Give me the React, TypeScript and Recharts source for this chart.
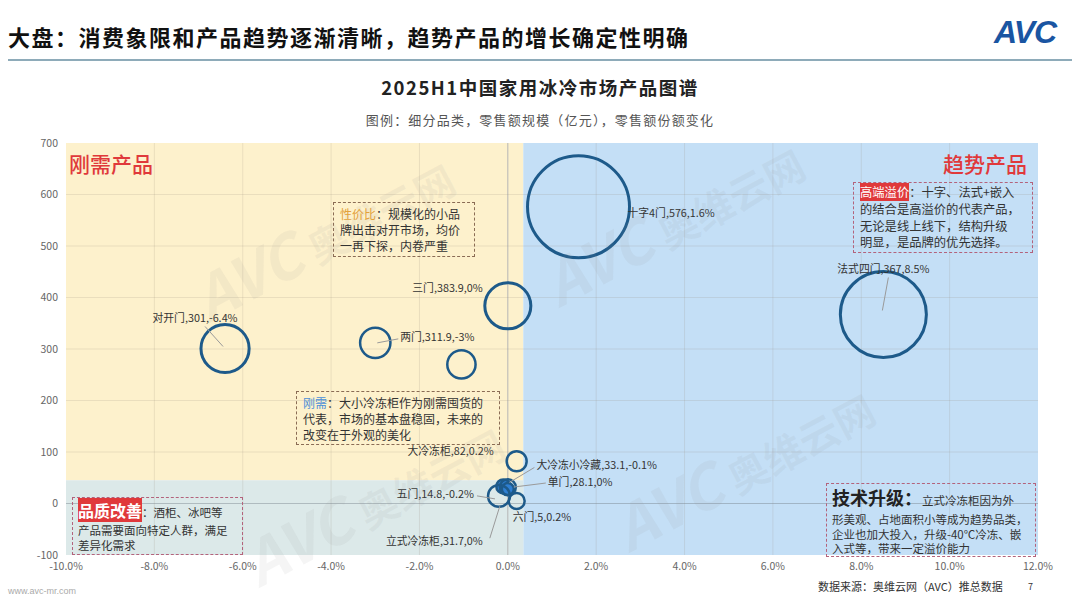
import { ScatterChart, Scatter, XAxis, YAxis, ZAxis, ReferenceArea, ReferenceLine } from 'recharts';

const names = ['对开门', '两门', '', '三门', '十字4门', '法式四门', '大冷冻柜', '大冷冻小冷藏', '单门', '五门', '六门', '立式冷冻柜'];
const sales = [301, 311.9, 270, 383.9, 576, 367, 82, 33.1, 28.1, 14.8, 5, 31.7];
const shareChange = [-6.4, -3, -1.05, 0, 1.6, 8.5, 0.2, -0.1, 0, -0.2, 0.2, 0];
const bubbleSize = [58, 23, 20, 53, 260, 185, 10, 5, 3.6, 12, 6.4, 6.4];
const filled = ['大冷冻小冷藏', '单门'];

const xTicks = [-10, -8, -6, -4, -2, 0, 2, 4, 6, 8, 10, 12];
const yTicks = [-100, 0, 100, 200, 300, 400, 500, 600, 700];

const data = names.map((name, i) => ({ name, x: shareChange[i], y: sales[i], z: bubbleSize[i] }));

// where each bubble label sits relative to its centre
const labelPos: Record<string, { dx: number; dy: number; anchor: string; line?: number[] }> = {
  对开门: { dx: -30, dy: -29, anchor: 'middle', line: [-20, -22, -2, -2] },
  两门: { dx: 25, dy: -5, anchor: 'start', line: [23, -4, 2, 0] },
  三门: { dx: -25, dy: -17, anchor: 'end' },
  十字4门: { dx: 49, dy: 7, anchor: 'start' },
  法式四门: { dx: 0, dy: -44, anchor: 'middle', line: [5, -37, -1, -4] },
  大冷冻柜: { dx: -23, dy: -9, anchor: 'end' },
  大冷冻小冷藏: { dx: 33, dy: -20, anchor: 'start', line: [31, -19, 6, -4] },
  单门: { dx: 40, dy: -6, anchor: 'start', line: [38, -6, 6, -2] },
  五门: { dx: -25, dy: -1, anchor: 'end', line: [-22, 0, -4, 3] },
  六门: { dx: -4, dy: 17, anchor: 'start' },
  立式冷冻柜: { dx: -25, dy: 55, anchor: 'end', line: [-18, 51, -8, 19] },
};

const font = '"Noto Sans CJK SC", "Noto Sans", sans-serif';

const Bubble = (props: any) => {
  const { cx, cy, payload } = props;
  const r = props.width ? props.width / 2 : Math.sqrt((props.size || 0) / Math.PI);
  const isFilled = filled.includes(payload.name);
  return (
    <circle cx={cx} cy={cy} r={r} fill={isFilled ? '#2f7fd2' : 'none'} stroke="#1d5a8a" strokeWidth={r > 20 ? 3 : 2.5} />
  );
};

const BubbleLabel = (props: any) => {
  const { cx, cy, payload } = props;
  const p = labelPos[payload.name];
  if (!p) return <g />;
  return (
    <g>
      {p.line && (
        <line x1={cx + p.line[0]} y1={cy + p.line[1]} x2={cx + p.line[2]} y2={cy + p.line[3]} stroke="#9a9a9a" strokeWidth={1} />
      )}
      <text x={cx + p.dx} y={cy + p.dy} textAnchor={p.anchor as any} dominantBaseline="middle" fontSize={10.8} fill="#333" fontFamily={font}>
        {`${payload.name},${payload.y},${payload.x}%`}
      </text>
    </g>
  );
};

const boxBase: React.CSSProperties = {
  position: 'absolute',
  fontFamily: font,
  fontSize: 12,
  lineHeight: '16px',
  color: '#333',
  padding: '3px 6px',
  boxSizing: 'border-box',
  whiteSpace: 'nowrap',
};

const Watermark = ({ left, top }: { left: number; top: number }) => (
  <div
    style={{
      position: 'absolute',
      left,
      top,
      transform: 'rotate(-28deg)',
      color: 'rgba(140,140,140,0.09)',
      fontFamily: font,
      fontWeight: 700,
      whiteSpace: 'nowrap',
      pointerEvents: 'none',
    }}
  >
    <span style={{ fontSize: 60, fontStyle: 'italic' }}>AVC</span>
    <span style={{ fontSize: 40, marginLeft: 10 }}>奥维云网</span>
  </div>
);

export default function App() {
  return (
    <div style={{ position: 'absolute', left: 0, top: 0, width: 1080, height: 607, background: '#fff', overflow: 'hidden', fontFamily: font }}>
      {/* header */}
      <div style={{ position: 'absolute', left: 8, top: 20, fontSize: 22, fontWeight: 700, color: '#111', letterSpacing: 1.5 }}>
        大盘：消费象限和产品趋势逐渐清晰，趋势产品的增长确定性明确
      </div>
      <div style={{ position: 'absolute', left: 994, top: 14, fontSize: 32, fontWeight: 900, fontStyle: 'italic', color: '#1a55a2', fontFamily: '"Liberation Sans", Arial, sans-serif', letterSpacing: -1 }}>
        AVC
      </div>
      <div style={{ position: 'absolute', left: 8, top: 59, width: 1064, height: 2, background: '#8eabb9' }} />
      <div style={{ position: 'absolute', left: 0, width: 1080, top: 74, textAlign: 'center', fontSize: 18.5, fontWeight: 700, color: '#222', letterSpacing: 1.5 }}>
        2025H1中国家用冰冷市场产品图谱
      </div>
      <div style={{ position: 'absolute', left: 0, width: 1080, top: 110, textAlign: 'center', fontSize: 13, color: '#555', letterSpacing: 1.2 }}>
        图例：细分品类，零售额规模（亿元），零售额份额变化
      </div>

      <div style={{ position: 'absolute', left: 0, top: 0 }}>
        <ScatterChart width={1080} height={607} margin={{ top: 143, right: 42, bottom: 22, left: 16 }}>
          <XAxis
            type="number"
            dataKey="x"
            domain={[-10, 12]}
            ticks={xTicks}
            tickFormatter={(v: number) => `${v.toFixed(1)}%`}
            axisLine={false}
            tickLine={false}
            height={30}
            tick={{ fill: '#666', fontSize: 10.5, fontFamily: font }}
          />
          <YAxis
            type="number"
            dataKey="y"
            domain={[-100, 700]}
            ticks={yTicks}
            axisLine={false}
            tickLine={false}
            width={50}
            tick={{ fill: '#666', fontSize: 10.5, fontFamily: font }}
          />
          <ZAxis type="number" dataKey="z" domain={[0, 260]} range={[0, Math.PI * 2600]} />
          <ReferenceArea x1={-10} x2={0.35} y1={45} y2={700} fill="#fdf1cc" fillOpacity={1} stroke="none" />
          <ReferenceArea x1={0.35} x2={12} y1={-100} y2={700} fill="#c4dff6" fillOpacity={1} stroke="none" />
          <ReferenceArea x1={-10} x2={0.35} y1={-100} y2={45} fill="#dce9e9" fillOpacity={1} stroke="none" />
          {xTicks.slice(1, -1).map((t) => (
            <ReferenceLine key={`vx${t}`} x={t} stroke={t === 0 ? '#b5b5b5' : 'rgba(150,140,120,0.18)'} strokeWidth={1} />
          ))}
          {yTicks.slice(1, -1).map((t) => (
            <ReferenceLine key={`hy${t}`} y={t} stroke={t === 0 ? 'rgba(120,130,140,0.45)' : 'rgba(150,140,120,0.18)'} strokeWidth={1} />
          ))}
          <Scatter data={data} shape={<Bubble />} isAnimationActive={false} />
          <Scatter data={data} shape={<BubbleLabel />} isAnimationActive={false} />
        </ScatterChart>
      </div>

      <Watermark left={180} top={190} />
      <Watermark left={530} top={175} />
      <Watermark left={230} top={455} />
      <Watermark left={600} top={420} />

      {/* quadrant titles */}
      <div style={{ position: 'absolute', left: 69, top: 148, fontSize: 21, color: '#e0393b', fontWeight: 500 }}>刚需产品</div>
      <div style={{ position: 'absolute', left: 943, top: 148, fontSize: 21, color: '#e0393b', fontWeight: 500 }}>趋势产品</div>

      {/* annotation boxes */}
      <div style={{ ...boxBase, left: 333, top: 202, width: 142, height: 55, border: '1.5px dashed #8a6c55' }}>
        <span style={{ color: '#e3a13a' }}>性价比</span>：规模化的小品<br />牌出击对开市场，均价<br />一再下探，内卷严重
      </div>
      <div style={{ ...boxBase, left: 296, top: 391, width: 204, height: 54, border: '1.5px dashed #8a6c55' }}>
        <span style={{ color: '#4a8fd8' }}>刚需</span>：大小冷冻柜作为刚需囤货的<br />代表，市场的基本盘稳固，未来的<br />改变在于外观的美化
      </div>
      <div style={{ ...boxBase, left: 853, top: 182, width: 180, height: 71, border: '1.5px dashed #b3637c', fontSize: 12.3, lineHeight: '16.8px', padding: '1px 6px' }}>
        <span style={{ color: '#fff', background: '#e0393b' }}>高端溢价</span>：十字、法式+嵌入<br />的结合是高溢价的代表产品，<br />无论是线上线下，结构升级<br />明显，是品牌的优先选择。
      </div>
      <div style={{ ...boxBase, left: 72, top: 497, width: 171, height: 58, border: '1.5px dashed #b3637c', fontSize: 11.5, lineHeight: '14.5px', padding: '2px 5px' }}>
        <div style={{ lineHeight: '21px' }}>
          <span style={{ color: '#fff', background: '#e0393b', fontSize: 16, fontWeight: 700 }}>品质改善</span>：酒柜、冰吧等
        </div>
        <div>产品需要面向特定人群，满足</div>
        <div>差异化需求</div>
      </div>
      <div style={{ ...boxBase, left: 826, top: 483, width: 210, height: 74, border: '1.5px dashed #b3637c', fontSize: 11.5, lineHeight: '14.5px', padding: '2px 5px' }}>
        <div style={{ lineHeight: '23px' }}>
          <span style={{ fontSize: 18, fontWeight: 700, color: '#222' }}>技术升级：</span>立式冷冻柜因为外
        </div>
        <div>形美观、占地面积小等成为趋势品类，</div>
        <div>企业也加大投入，升级-40℃冷冻、嵌</div>
        <div>入式等，带来一定溢价能力</div>
      </div>

      {/* footer */}
      <div style={{ position: 'absolute', left: 8, top: 586, fontSize: 9, color: '#aaa', fontFamily: '"Liberation Sans", sans-serif' }}>www.avc-mr.com</div>
      <div style={{ position: 'absolute', left: 818, top: 578, fontSize: 11, color: '#333' }}>数据来源：奥维云网（AVC）推总数据</div>
      <div style={{ position: 'absolute', left: 1028, top: 580, fontSize: 9, color: '#333' }}>7</div>
    </div>
  );
}
